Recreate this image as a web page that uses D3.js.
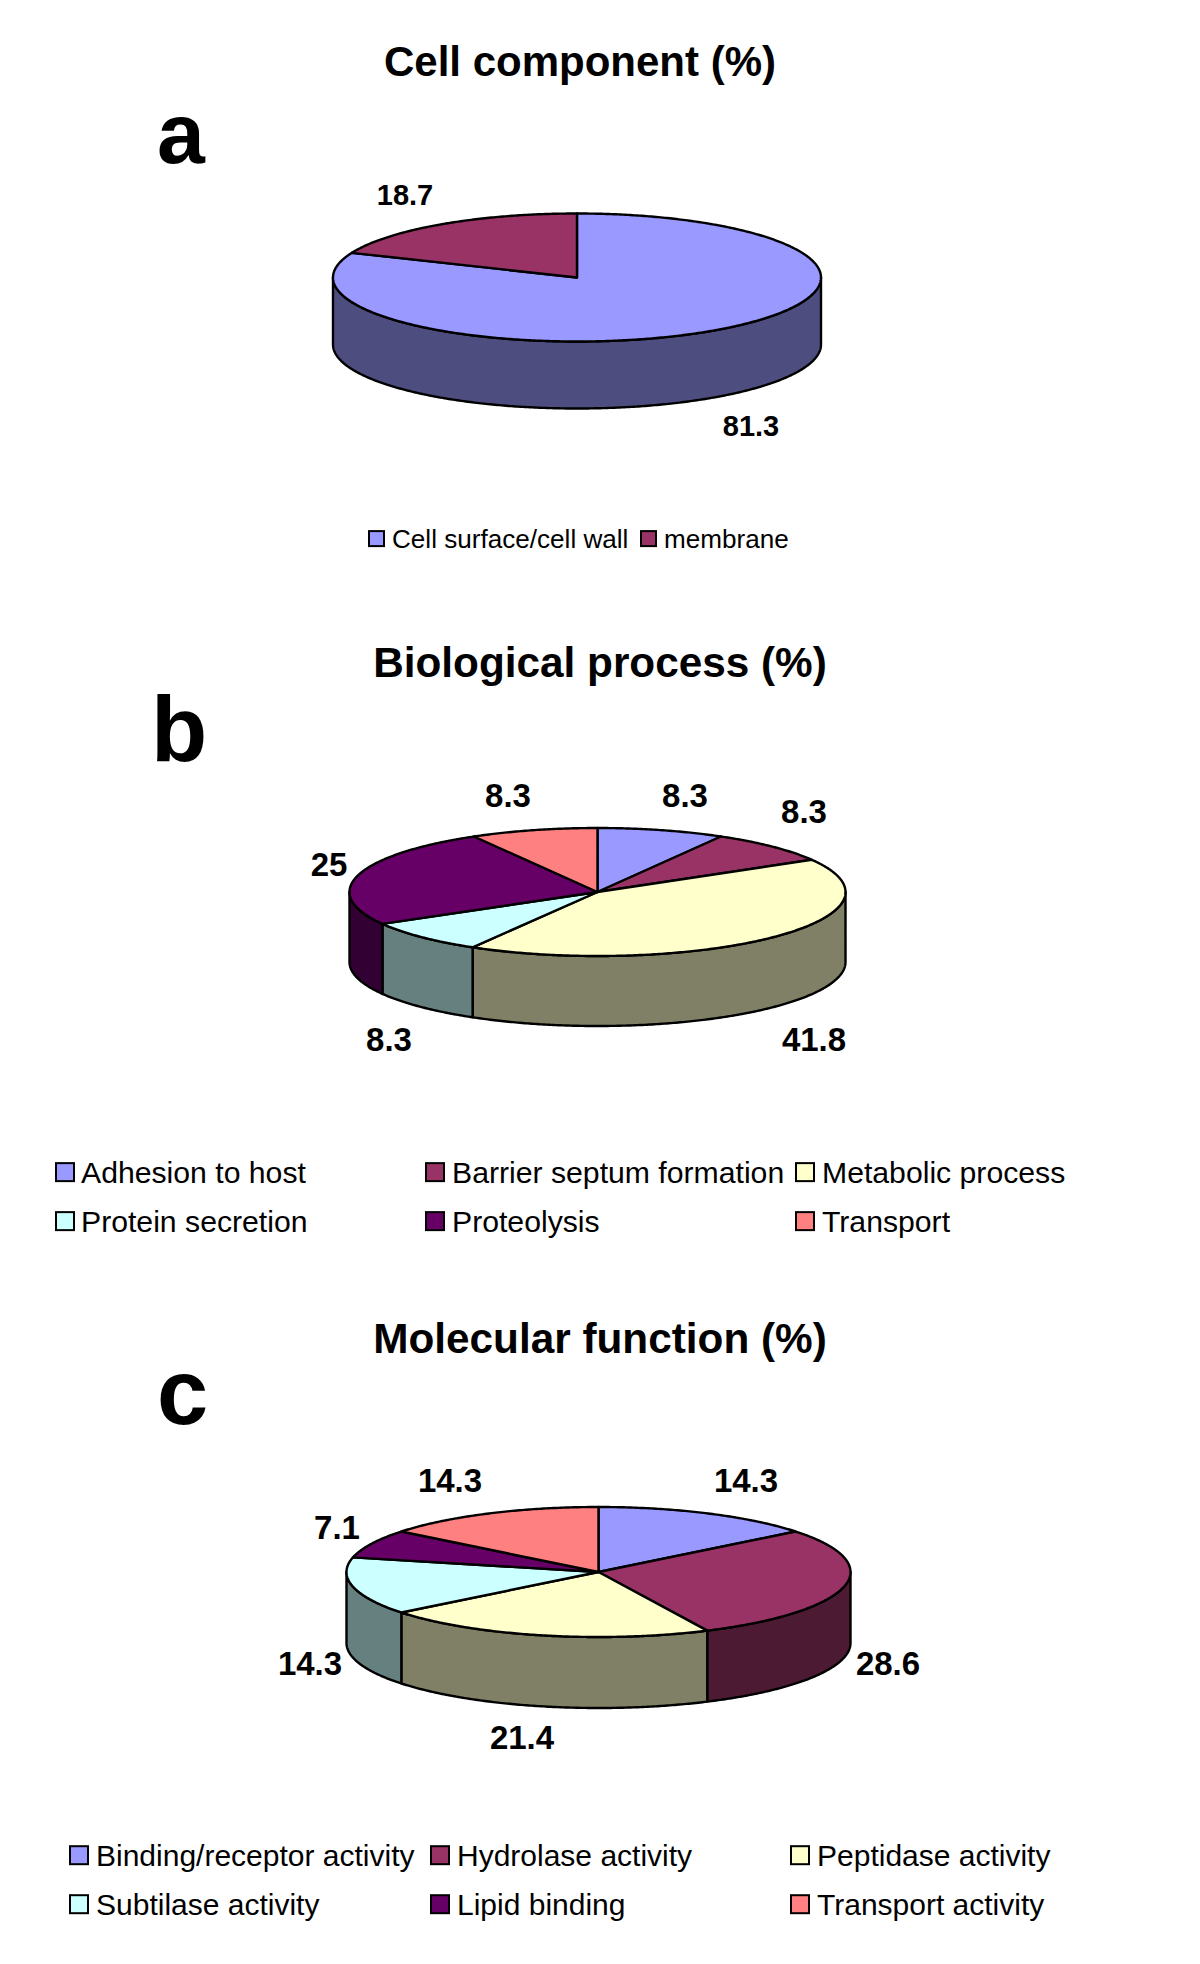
<!DOCTYPE html>
<html><head><meta charset="utf-8">
<script src="https://cdn.jsdelivr.net/npm/d3@7"></script>
<style>
html,body{margin:0;padding:0;background:#fff}
svg{display:block}
text{font-family:"Liberation Sans",Arial,sans-serif;fill:#000}
</style></head><body>
<svg id="c" width="1200" height="1964"></svg>
<script>
// ---- data ----
const titleA = "Cell component (%)";
const catsA = ["Cell surface/cell wall", "membrane"];
const valsA = [81.3, 18.7];
const colorsA = ["#9999FF", "#993366"];

const titleB = "Biological process (%)";
const catsB = ["Adhesion to host", "Barrier septum formation", "Metabolic process", "Protein secretion", "Proteolysis", "Transport"];
const valsB = [8.3, 8.3, 41.8, 8.3, 25, 8.3];
const labelsB = ["8.3", "8.3", "41.8", "8.3", "25", "8.3"];

const titleC = "Molecular function (%)";
const catsC = ["Binding/receptor activity", "Hydrolase activity", "Peptidase activity", "Subtilase activity", "Lipid binding", "Transport activity"];
const valsC = [14.3, 28.6, 21.4, 14.3, 7.1, 14.3];
const labelsC = ["14.3", "28.6", "21.4", "14.3", "7.1", "14.3"];

const palette = ["#9999FF", "#993366", "#FFFFCC", "#CCFFFF", "#660066", "#FF8080"];

// ---- layout ----
const panels = [
  {letter:"a", lx:157, lfs:86, ly:163, title:titleA, tx:580, ty:76, tfs:42,
   cats:catsA, vals:valsA, labels:["81.3","18.7"], colors:colorsA,
   cx:577, cy:277.5, rx:244, ry:64, depth:67, lfs2:29,
   labelPos:[[751,436],[405,205]],
   legFs:26.1, sw:15,
   legX:[369,641], legTextX:[392,664], legY:[548,548]},
  {letter:"b", lx:151, lfs:92, ly:761, title:titleB, tx:600, ty:677, tfs:42.3,
   cats:catsB, vals:valsB, labels:labelsB, colors:palette,
   cx:597.5, cy:892, rx:248, ry:64, depth:70, lfs2:33,
   labelPos:[[685,807],[804,823],[814,1051],[389,1051],[329,876],[508,807]],
   legFs:30.2, sw:18,
   legX:[56,426,796,56,426,796], legTextX:[81,452,822,81,452,822], legY:[1183,1183,1183,1232,1232,1232]},
  {letter:"c", lx:157, lfs:92, ly:1424, title:titleC, tx:600, ty:1353, tfs:42.3,
   cats:catsC, vals:valsC, labels:labelsC, colors:palette,
   cx:598.5, cy:1572, rx:252, ry:65, depth:71, lfs2:33,
   labelPos:[[746,1492],[888,1675],[522,1749],[310,1675],[337,1539],[450,1492]],
   legFs:30, sw:18,
   legX:[70,431,791,70,431,791], legTextX:[96,457,817,96,457,817], legY:[1866,1866,1866,1915,1915,1915]}
];

const svg = d3.select("#c");
const darken = c => { const r = d3.rgb(c); return d3.rgb(r.r*0.5, r.g*0.5, r.b*0.5).formatHex(); };

panels.forEach(p => {
  const g = svg.append("g");
  const x = d3.scaleLinear().domain([-1,1]).range([p.cx-p.rx, p.cx+p.rx]);
  const y = d3.scaleLinear().domain([-1,1]).range([p.cy-p.ry, p.cy+p.ry]);
  const px = a => x(Math.sin(a));
  const py = (a,dz=0) => y(-Math.cos(a)) + dz;
  const line = d3.line().x(d=>d[0]).y(d=>d[1]);
  const arcs = d3.pie().sort(null).value(d=>d)(p.vals);
  const angles = (a0,a1) => { const n=Math.max(2,Math.ceil((a1-a0)/0.01)); return d3.range(n+1).map(i=>a0+(a1-a0)*i/n); };

  // side walls (front half of the drum only)
  arcs.forEach((d,i) => {
    const a0 = Math.max(d.startAngle, Math.PI/2), a1 = Math.min(d.endAngle, Math.PI*1.5);
    if (a1 <= a0) return;
    const as = angles(a0,a1);
    const pts = as.map(a=>[px(a),py(a)]).concat(as.slice().reverse().map(a=>[px(a),py(a,p.depth)]));
    g.append("path").attr("d",line(pts)+"Z").attr("fill",darken(p.colors[i]))
      .attr("stroke","#000").attr("stroke-width",2.4).attr("stroke-linejoin","round");
  });
  // top face
  arcs.forEach((d,i) => {
    const pts = [[x(0),y(0)]].concat(angles(d.startAngle,d.endAngle).map(a=>[px(a),py(a)]));
    g.append("path").attr("d",line(pts)+"Z").attr("fill",p.colors[i])
      .attr("stroke","#000").attr("stroke-width",2.4).attr("stroke-linejoin","round");
  });
  // title + letter
  g.append("text").attr("x",p.tx).attr("y",p.ty).attr("text-anchor","middle")
    .attr("font-size",p.tfs).attr("font-weight","bold").text(p.title);
  g.append("text").attr("x",p.lx).attr("y",p.ly)
    .attr("font-size",p.lfs).attr("font-weight","bold").text(p.letter);
  // value labels
  p.labels.forEach((t,i) => {
    g.append("text").attr("x",p.labelPos[i][0]).attr("y",p.labelPos[i][1]).attr("text-anchor","middle")
      .attr("font-size",p.lfs2).attr("font-weight","bold").text(t);
  });
  // legend
  p.cats.forEach((c,i) => {
    g.append("rect").attr("x",p.legX[i]).attr("y",p.legY[i]-p.legFs*0.36-p.sw/2).attr("width",p.sw).attr("height",p.sw)
      .attr("fill",p.colors[i]).attr("stroke","#000").attr("stroke-width",2);
    g.append("text").attr("x",p.legTextX[i]).attr("y",p.legY[i]).attr("font-size",p.legFs).text(c);
  });
});
</script>
</body></html>
